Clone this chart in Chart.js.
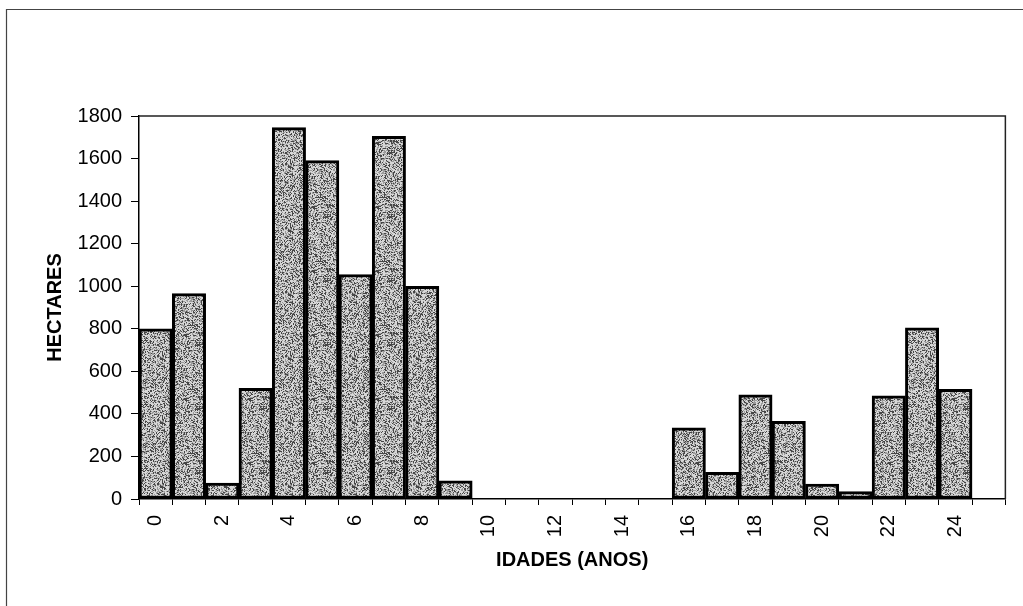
<!DOCTYPE html>
<html>
<head>
<meta charset="utf-8">
<script src="https://cdn.jsdelivr.net/npm/chart.js@4/dist/chart.umd.min.js"></script>
<style>
  html, body { margin: 0; padding: 0; background: #ffffff; }
  #wrap { width: 1023px; height: 606px; }
</style>
</head>
<body>
<div id="wrap"><canvas id="chart" width="1023" height="606"></canvas></div>
<script>
// Area (hectares) by stand age (years)
const ages = ['0','1','2','3','4','5','6','7','8','9','10','11','12','13','14','15','16','17','18','19','20','21','22','23','24','25'];
const hectares = [800, 965, 75, 520, 1745, 1590, 1055, 1705, 1000, 85, 0, 0, 0, 0, 0, 0, 335, 125, 490, 365, 70, 35, 485, 805, 515, 0];
const yTicks = [0, 200, 400, 600, 800, 1000, 1200, 1400, 1600, 1800];
const xTitle = 'IDADES (ANOS)';
const yTitle = 'HECTARES';

// Stippled grey fill for the bars (fixed hash, so it is the same every time)
function stipple() {
  const size = 64;
  const c = document.createElement('canvas');
  c.width = size; c.height = size;
  const g = c.getContext('2d');
  const img = g.createImageData(size, size);
  for (let y = 0; y < size; y++) {
    for (let x = 0; x < size; x++) {
      const s = Math.sin(x * 12.9898 + y * 78.233) * 43758.5453;
      const v = s - Math.floor(s);
      const shade = v < 0.27 ? 70 : (v < 0.55 ? 155 : 215);
      const i = (y * size + x) * 4;
      img.data[i] = shade; img.data[i + 1] = shade; img.data[i + 2] = shade; img.data[i + 3] = 255;
    }
  }
  g.putImageData(img, 0, 0);
  return g.createPattern(c, 'repeat');
}

const frames = {
  id: 'frames',
  beforeDraw(chart) {
    const ctx = chart.ctx;
    ctx.save();
    ctx.fillStyle = '#ffffff';
    ctx.fillRect(0, 0, chart.width, chart.height);
    ctx.restore();
  },
  afterDraw(chart) {
    const ctx = chart.ctx;
    const a = chart.chartArea;
    ctx.save();
    // plot area top and right edges
    ctx.strokeStyle = '#222222';
    ctx.lineWidth = 1.5;
    ctx.beginPath();
    ctx.moveTo(a.left, a.top);
    ctx.lineTo(a.right, a.top);
    ctx.lineTo(a.right, a.bottom);
    ctx.stroke();
    // outer chart frame
    ctx.strokeStyle = '#444444';
    ctx.lineWidth = 1.2;
    ctx.beginPath();
    ctx.moveTo(chart.width, 9.5);
    ctx.lineTo(6.5, 9.5);
    ctx.lineTo(6.5, chart.height);
    ctx.stroke();
    ctx.restore();
  }
};

const font = 'Liberation Sans, Arial, sans-serif';

new Chart(document.getElementById('chart'), {
  type: 'bar',
  data: {
    labels: ages,
    datasets: [{
      data: hectares,
      backgroundColor: stipple(),
      borderColor: '#000000',
      borderWidth: 3,
      borderSkipped: false,
      barPercentage: 1,
      categoryPercentage: 1
    }]
  },
  plugins: [frames],
  options: {
    responsive: false,
    animation: false,
    devicePixelRatio: 1,
    layout: { padding: { top: 116, right: 15, left: 40, bottom: 30 } },
    plugins: { legend: { display: false }, tooltip: { enabled: false } },
    scales: {
      x: {
        offset: true,
        grid: { offset: true, drawOnChartArea: false, drawTicks: true, tickLength: 6, color: '#000000', lineWidth: 1 },
        border: { display: true, color: '#000000', width: 1.5 },
        ticks: {
          autoSkip: false,
          minRotation: 90,
          maxRotation: 90,
          padding: 10,
          color: '#000000',
          font: { family: font, size: 20 },
          callback: (v, i) => (i % 2 === 0 ? ages[i] : '')
        },
        title: {
          display: true,
          text: xTitle,
          color: '#000000',
          font: { family: font, size: 20, weight: 'bold' },
          padding: { top: 0, bottom: 4 }
        },
        afterFit: (s) => { s.height = 77; }
      },
      y: {
        min: 0,
        max: 1800,
        afterBuildTicks: (s) => { s.ticks = yTicks.map(v => ({ value: v })); },
        grid: { drawOnChartArea: false, drawTicks: true, tickLength: 8, color: '#000000', lineWidth: 1 },
        border: { display: true, color: '#000000', width: 1.5 },
        ticks: {
          padding: 9,
          color: '#000000',
          font: { family: font, size: 20 },
          callback: (v) => String(v)
        },
        title: {
          display: true,
          text: yTitle,
          color: '#000000',
          font: { family: font, size: 20, weight: 'bold' },
          padding: { top: 3, bottom: 0 }
        },
        afterFit: (s) => { s.width = 99; }
      }
    }
  }
});
</script>
</body>
</html>
